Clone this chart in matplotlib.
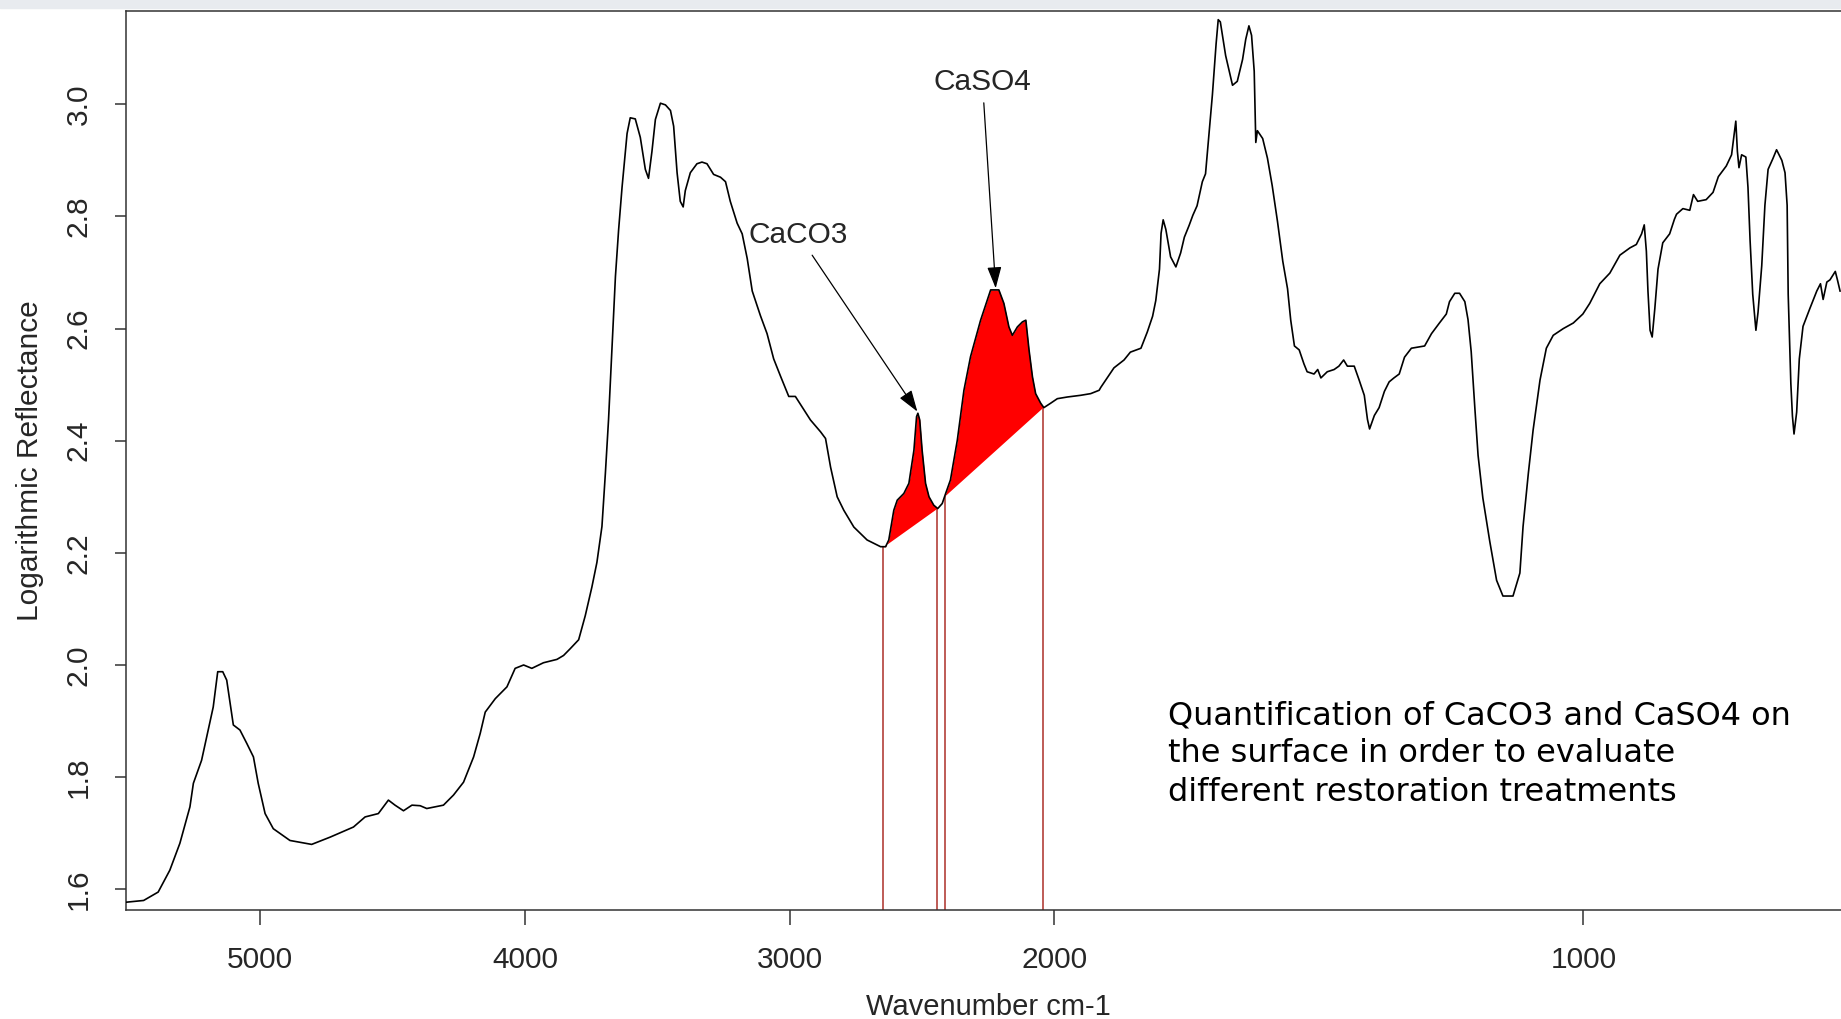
import matplotlib
matplotlib.use('Agg')
import matplotlib.pyplot as plt
from matplotlib.patches import Rectangle
import numpy as np

# spectrum: wavenumber (cm-1) and log reflectance
wavenumber = [5505, 5441, 5386, 5342, 5304, 5266, 5253, 5222, 5197, 5178, 5161, 5142, 5127, 5102, 5077,
              5051, 5026, 5008, 4982, 4951, 4888, 4806, 4736, 4648, 4604, 4554, 4516, 4491, 4459, 4427,
              4396, 4371, 4308, 4270, 4232, 4194, 4169, 4150, 4112, 4068, 4037, 4005, 3974, 3930, 3879,
              3854, 3829, 3797,
              3772, 3747, 3728, 3709, 3696, 3684, 3671, 3658, 3646, 3633, 3614, 3602, 3583, 3564, 3545,
              3533, 3520, 3507, 3488, 3469, 3450, 3438, 3425, 3413, 3402, 3394, 3375, 3350, 3331, 3312,
              3287, 3261, 3242, 3224, 3198, 3179, 3160, 3141, 3110, 3085, 3060, 3034, 3003, 2978, 2959,
              2921, 2883, 2864, 2845, 2820, 2795, 2757, 2707, 2656, 2637, 2625, 2606, 2593, 2568, 2549,
              2530, 2520, 2515, 2508, 2499, 2486, 2473, 2455, 2440, 2423, 2410, 2392, 2366, 2341, 2316,
              2278, 2240, 2209, 2190, 2171, 2158, 2139, 2120, 2107, 2095, 2082, 2070, 2051, 2039, 2013,
              1994, 1975, 1950, 1931, 1915,
              1912, 1887, 1868, 1856, 1836, 1824, 1814, 1808, 1801, 1798, 1794, 1789, 1780, 1770, 1761,
              1754, 1745, 1738, 1730, 1720, 1714, 1707, 1701, 1694, 1690, 1686, 1676, 1663, 1654, 1644,
              1638, 1632, 1627, 1622, 1619, 1616, 1606, 1597, 1588, 1578, 1568, 1559, 1553, 1546, 1537,
              1528, 1522, 1509, 1502, 1496, 1484, 1471, 1462, 1453, 1446, 1433, 1424, 1414, 1408, 1404,
              1395, 1386, 1376, 1367, 1358, 1348,
              1338, 1325, 1300, 1287, 1272, 1259, 1253, 1243, 1234, 1224, 1218, 1212, 1205, 1199, 1190,
              1177, 1164, 1152, 1133, 1120, 1114, 1104, 1095, 1082, 1070, 1057, 1038, 1019, 1001, 988,
              969, 950, 931, 912, 900, 890, 885, 881, 878, 874, 870, 865, 859, 850, 837,
              828, 824, 812, 799, 792, 784, 768, 755, 745, 730, 720, 715, 712, 709, 706,
              701, 693, 689, 685, 680, 674, 670, 663, 657, 651, 642, 635, 625, 619, 615,
              613, 608, 605, 602, 597, 592, 585, 572, 559, 552, 547, 540, 534, 524, 520, 515]
reflectance = [1.577, 1.580, 1.595, 1.634, 1.682, 1.747, 1.789, 1.830, 1.884, 1.925, 1.988, 1.988, 1.973, 1.893, 1.884,
               1.860, 1.836, 1.789, 1.735, 1.708, 1.687, 1.680, 1.693, 1.711, 1.729, 1.735, 1.759, 1.750, 1.740, 1.750,
               1.749, 1.744, 1.750, 1.768, 1.791, 1.836, 1.878, 1.916, 1.940, 1.961, 1.994, 2.000, 1.994, 2.004, 2.010,
               2.017, 2.029, 2.045,
               2.088, 2.139, 2.183, 2.247, 2.342, 2.438, 2.565, 2.693, 2.776, 2.852, 2.948, 2.976, 2.974, 2.941, 2.884,
               2.868, 2.916, 2.973, 3.002, 2.999, 2.989, 2.961, 2.878, 2.827, 2.817, 2.846, 2.878, 2.894, 2.897, 2.894,
               2.875, 2.870, 2.862, 2.827, 2.788, 2.769, 2.725, 2.667, 2.623, 2.591, 2.546, 2.515, 2.479, 2.479, 2.465,
               2.437, 2.416, 2.404, 2.353, 2.300, 2.276, 2.246, 2.223, 2.211, 2.211, 2.223, 2.276, 2.294, 2.306, 2.324,
               2.383, 2.443, 2.449, 2.437, 2.383, 2.324, 2.300, 2.285, 2.279, 2.288, 2.306, 2.330, 2.401, 2.490, 2.550,
               2.615, 2.669, 2.669, 2.645, 2.603, 2.588, 2.603, 2.612, 2.615, 2.562, 2.514, 2.484, 2.467, 2.459, 2.467,
               2.475, 2.478, 2.481, 2.484, 2.490,
               2.495, 2.530, 2.544, 2.558, 2.565, 2.594, 2.622, 2.650, 2.706, 2.770, 2.794, 2.777, 2.728, 2.710, 2.735,
               2.763, 2.784, 2.802, 2.819, 2.862, 2.876, 2.953, 3.017, 3.108, 3.151, 3.147, 3.087, 3.034, 3.041, 3.080,
               3.116, 3.140, 3.123, 3.059, 2.932, 2.953, 2.939, 2.904, 2.855, 2.791, 2.720, 2.671, 2.615, 2.569, 2.562,
               2.537, 2.523, 2.519, 2.527, 2.512, 2.523, 2.527, 2.533, 2.544, 2.533, 2.533, 2.509, 2.481, 2.438, 2.421,
               2.445, 2.459, 2.488, 2.505, 2.512, 2.519,
               2.549, 2.565, 2.569, 2.591, 2.610, 2.626, 2.648, 2.663, 2.663, 2.648, 2.616, 2.559, 2.457, 2.374, 2.298,
               2.221, 2.151, 2.123, 2.123, 2.164, 2.247, 2.342, 2.419, 2.508, 2.565, 2.588, 2.600, 2.610, 2.626, 2.645,
               2.680, 2.699, 2.731, 2.744, 2.750, 2.769, 2.785, 2.738, 2.667, 2.597, 2.585, 2.636, 2.706, 2.753, 2.769,
               2.795, 2.804, 2.814, 2.811, 2.839, 2.827, 2.830, 2.843, 2.871, 2.890, 2.910, 2.948, 2.970, 2.916, 2.887,
               2.910, 2.906, 2.852, 2.757, 2.661, 2.597, 2.629, 2.712, 2.820, 2.884, 2.903, 2.919, 2.900, 2.878, 2.820,
               2.661, 2.502, 2.444, 2.412, 2.451, 2.546, 2.604, 2.636, 2.667, 2.680, 2.652, 2.683, 2.687, 2.702, 2.687, 2.667]

# integration limits of the two bands
caco3_band = [2646, 2442]
caso4_band = [2413, 2041]

x_ticks = [5000, 4000, 3000, 2000, 1000]
y_ticks = [1.6, 1.8, 2.0, 2.2, 2.4, 2.6, 2.8, 3.0]
y_tick_labels = ['1.6', '1.8', '2.0', '2.2', '2.4', '2.6', '2.8', '3.0']

caption = ['Quantification of CaCO3 and CaSO4 on',
           'the surface in order to evaluate',
           'different restoration treatments']

wn = np.array(wavenumber, dtype=float)
val = np.array(reflectance, dtype=float)
ymin, ymax = 1.563, 3.167

# axis below 2000 cm-1 is stretched by a factor of two
def fwd(w):
    w = np.asarray(w, dtype=float)
    return np.where(w >= 2000, w, 2 * w - 2000)

def inv(u):
    u = np.asarray(u, dtype=float)
    return np.where(u >= 2000, u, (u + 2000) / 2)

def curve_at(w):
    return np.interp(w, wn[::-1], val[::-1])

r_font = 'Liberation Sans'
txt_col = '#262626'

fig = plt.figure(figsize=(18.41, 10.19), dpi=100)
fig.patches.append(Rectangle((0, 1 - 8 / 1019), 1, 8 / 1019, transform=fig.transFigure,
                             color='#e8ebef', zorder=0))
ax = fig.add_axes([125.9 / 1841, 1 - 910 / 1019, (1848 - 125.9) / 1841, (910 - 10.7) / 1019])
ax.set_xscale('function', functions=(fwd, inv))

for a, b in [caco3_band, caso4_band]:
    ya, yb = curve_at(a), curve_at(b)
    m = (wn < a) & (wn > b)
    xs = np.concatenate([[a], wn[m], [b]])
    ys = np.concatenate([[ya], val[m], [yb]])
    base = ya + (yb - ya) * (xs - a) / (b - a)
    ax.fill_between(xs, base, ys, color='#ff0000', lw=0, zorder=2)

lims = caco3_band + caso4_band
ax.vlines(lims, ymin, curve_at(np.array(lims, dtype=float)), color='#b3403a', lw=1.2, zorder=1)

ax.plot(wn, val, color='black', lw=1.2, zorder=3)

arrow = dict(arrowstyle='-|>,head_length=0.6,head_width=0.2', color='black', lw=0.9,
             mutation_scale=22, shrinkA=3, shrinkB=0)
ax.annotate('CaSO4', xy=(2221, 2.672), xytext=(2271, 3.040), ha='center', va='center',
            fontsize=21.5, family=r_font, color=txt_col, arrowprops=arrow, zorder=4)
ax.annotate('CaCO3', xy=(2517, 2.452), xytext=(2966, 2.767), ha='center', va='center',
            fontsize=21.5, family=r_font, color=txt_col, arrowprops=arrow, zorder=4)

for i, line in enumerate(caption):
    fig.text(1168 / 1841, 1 - (724 + 38.5 * i) / 1019, line, fontsize=23, family='DejaVu Sans',
             color='black', ha='left', va='baseline')

ax.set_xlim(5508, 500)
ax.set_ylim(ymin, ymax)
ax.set_xticks(x_ticks)
ax.set_xticklabels([str(t) for t in x_ticks])
ax.set_yticks(y_ticks)
ax.set_yticklabels(y_tick_labels)
ax.minorticks_off()
ax.tick_params(axis='x', length=15 * 0.72, width=1.1, pad=15, labelsize=21.5,
               labelcolor=txt_col, color='#333333')
ax.tick_params(axis='y', length=10.7 * 0.72, width=1.1, pad=16, labelsize=21.5,
               labelcolor=txt_col, color='#333333', labelrotation=90)
for lbl in ax.get_xticklabels() + ax.get_yticklabels():
    lbl.set_family(r_font)
for lbl in ax.get_yticklabels():
    lbl.set_va('center')

for s in ax.spines.values():
    s.set_color('#333333')
    s.set_linewidth(1.1)

ax.set_xlabel('Wavenumber cm-1', fontsize=21, family=r_font, color=txt_col, va='center')
ax.xaxis.set_label_coords(0.5009, -97 / 899.3)
ax.set_ylabel('Logarithmic Reflectance', fontsize=21.5, family=r_font, color=txt_col, va='center')
ax.yaxis.set_label_coords((30 - 125.9) / 1722.1, 0.5)

fig.savefig('out.png', dpi=100)
